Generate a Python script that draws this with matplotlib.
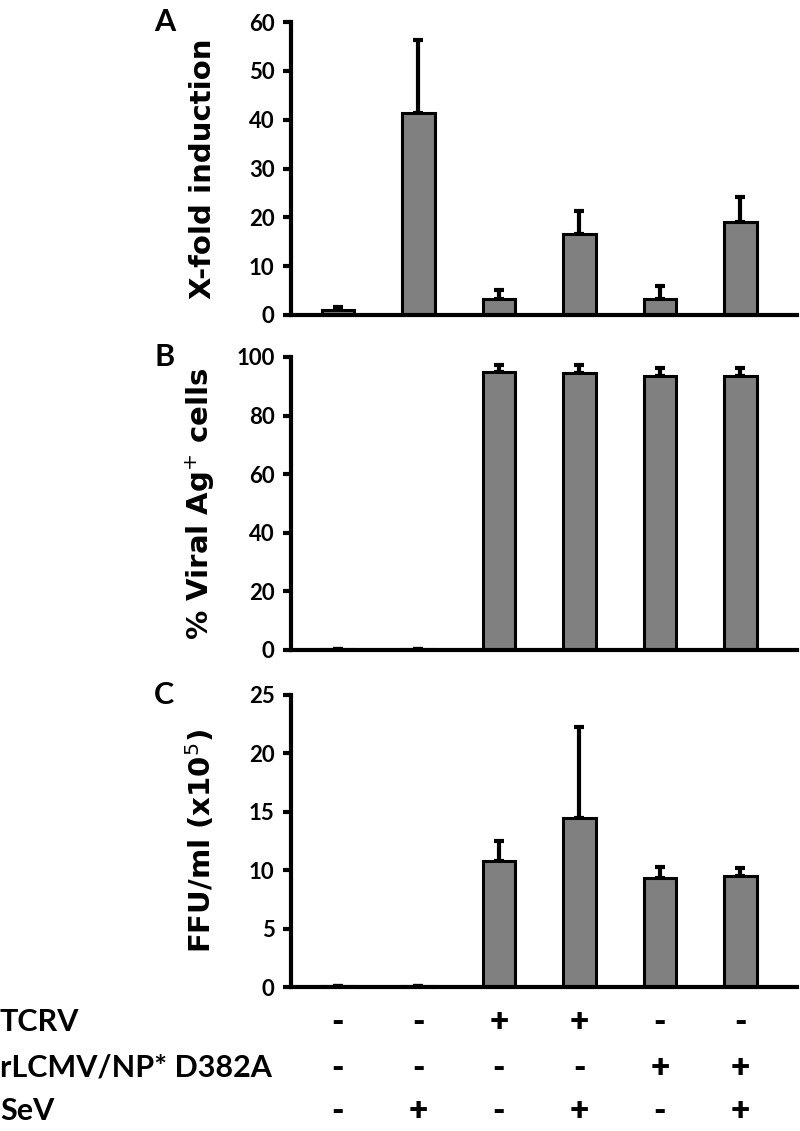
import matplotlib
matplotlib.use('Agg')
from matplotlib import pyplot as plt
import numpy as np

# panel A: X-fold induction
fold_vals = [1.0, 41.4, 3.3, 16.5, 3.3, 19.0]
fold_err = [0.6, 14.9, 1.9, 4.8, 2.7, 5.2]
# panel B: % viral Ag+ cells
ag_vals = [0.2, 0.2, 95.0, 94.5, 93.6, 93.6]
ag_err = [0.0, 0.0, 2.3, 2.8, 2.7, 2.7]
# panel C: FFU/ml (x10^5)
ffu_vals = [0.05, 0.05, 10.8, 14.5, 9.3, 9.5]
ffu_err = [0.0, 0.0, 1.7, 7.8, 1.0, 0.7]

row_names = ['TCRV', 'rLCMV/NP* D382A', 'SeV']
signs = [['-', '-', '+', '+', '-', '-'],
         ['-', '-', '-', '-', '+', '+'],
         ['-', '+', '-', '+', '-', '+']]

lab_font = 'Lato'

fig = plt.figure(figsize=(8, 11.31), dpi=100)

panels = [
    ('A', fold_vals, fold_err, (0, 60), 10, 'X-fold induction', [0.364, 0.7215, 0.632, 0.259]),
    ('B', ag_vals, ag_err, (0, 100), 20, '% Viral Ag$^{+}$ cells', [0.364, 0.4253, 0.632, 0.2591]),
    ('C', ffu_vals, ffu_err, (0, 25), 5, 'FFU/ml (x10$^{5}$)', [0.364, 0.1273, 0.632, 0.2582]),
]

x = np.arange(6)
for letter, vals, err, ylim, step, ylab, rect in panels:
    ax = fig.add_axes(rect)
    ax.bar(x, vals, width=0.4, color='#808080', edgecolor='black', linewidth=2.2, zorder=2)
    ax.errorbar(x, vals, yerr=[np.zeros(6), err], fmt='none', ecolor='black',
                elinewidth=3, capsize=3.3, capthick=3, zorder=1)
    ax.set_xlim(-0.58, 5.7)
    ax.set_ylim(*ylim)
    ax.set_yticks(np.arange(ylim[0], ylim[1] + 1, step))
    ax.set_xticks([])
    for s in ['top', 'right']:
        ax.spines[s].set_visible(False)
    for s in ['left', 'bottom']:
        ax.spines[s].set_linewidth(3)
    ax.tick_params(axis='y', direction='out', length=6, width=3, pad=6)
    for lab in ax.get_yticklabels():
        lab.set_fontfamily(lab_font)
        lab.set_fontweight('bold')
        lab.set_fontsize(16)
    ax.set_ylabel(ylab, fontsize=21, fontweight='bold', family='DejaVu Sans')
    ax.yaxis.set_label_coords(-0.146, 0.5)
    ax.text(-0.251, 1.0, letter, transform=ax.transAxes, fontsize=22,
            fontweight='bold', family=lab_font, va='center', ha='center')

# condition table under the bottom panel
ax = fig.axes[-1]
row_y = [1022, 1068, 1111]
for r, name in enumerate(row_names):
    yf = 1 - row_y[r] / 1131
    fig.text(0.0, yf, name, fontsize=22, fontweight='bold', family=lab_font,
             ha='left', va='center')
    for i, sgn in enumerate(signs[r]):
        xd = ax.transData.transform((i, 0))[0]
        xf = fig.transFigure.inverted().transform((xd, 0))[0]
        fig.text(xf, yf, sgn, fontsize=24, fontweight='heavy', family=lab_font,
                 ha='center', va='center')

fig.savefig('out.png', dpi=100)
